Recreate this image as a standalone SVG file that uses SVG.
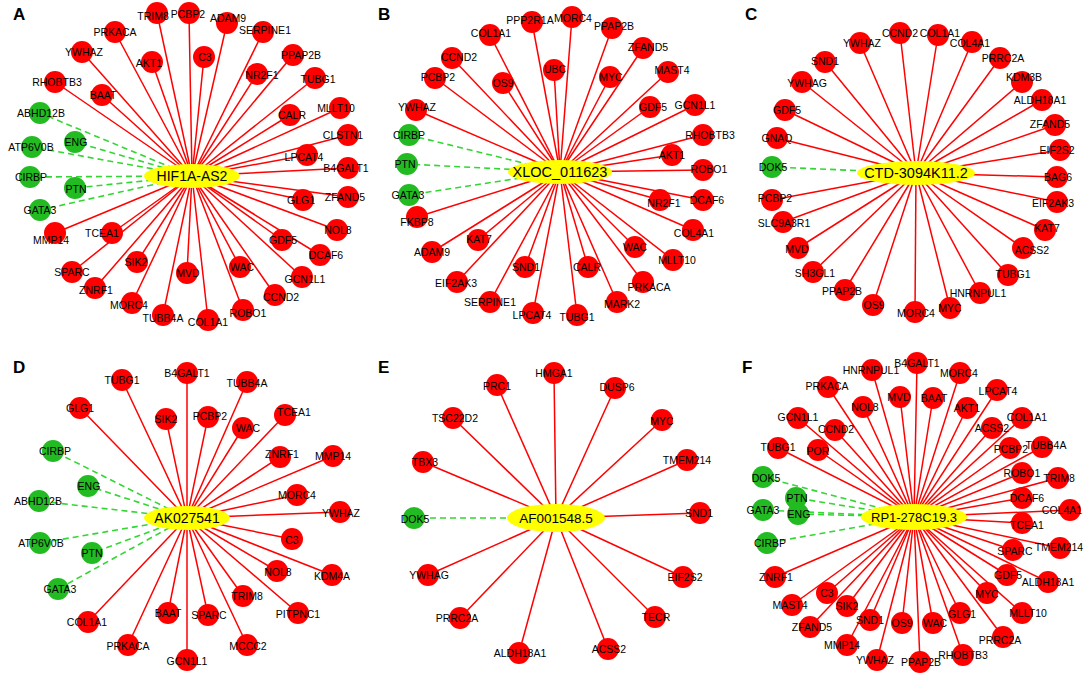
<svg xmlns="http://www.w3.org/2000/svg" width="1084" height="674" viewBox="0 0 1084 674">
<style>
.er{stroke:#f00;stroke-width:1.5}
.eg{stroke:#33d633;stroke-width:1.6;stroke-dasharray:6 4}
.nr{fill:#f00}
.ng{fill:#22bb22}
.hub{fill:#ffff00}
text{font-family:"Liberation Sans",Arial,sans-serif;fill:#000}
.t{font-size:10.5px;text-anchor:middle}
.ht{text-anchor:middle}
.pl{font-size:17px;font-weight:bold}
</style>
<rect width="1084" height="674" fill="#fff"/>
<g id="panel-labels">
<text class="pl" x="13" y="20">A</text>
<text class="pl" x="378" y="20">B</text>
<text class="pl" x="745" y="20">C</text>
<text class="pl" x="13" y="373">D</text>
<text class="pl" x="378" y="373">E</text>
<text class="pl" x="742" y="373">F</text>
</g>
<g id="connectors">
<!-- A -->
<g class="er">
<line x1="192" y1="176" x2="157" y2="13"/><line x1="192" y1="176" x2="189" y2="13"/><line x1="192" y1="176" x2="227" y2="23"/><line x1="192" y1="176" x2="263" y2="32"/><line x1="192" y1="176" x2="115" y2="32"/><line x1="192" y1="176" x2="82" y2="52"/><line x1="192" y1="176" x2="152" y2="62"/><line x1="192" y1="176" x2="204" y2="57"/><line x1="192" y1="176" x2="293" y2="55"/><line x1="192" y1="176" x2="257" y2="74"/><line x1="192" y1="176" x2="315" y2="78"/><line x1="192" y1="176" x2="55" y2="82"/><line x1="192" y1="176" x2="102" y2="95"/><line x1="192" y1="176" x2="340" y2="108"/><line x1="192" y1="176" x2="290" y2="115"/><line x1="192" y1="176" x2="348" y2="135"/><line x1="192" y1="176" x2="307" y2="155"/><line x1="192" y1="176" x2="348" y2="168"/><line x1="192" y1="176" x2="348" y2="197"/><line x1="192" y1="176" x2="303" y2="200"/><line x1="192" y1="176" x2="337" y2="230"/><line x1="192" y1="176" x2="55" y2="233"/><line x1="192" y1="176" x2="112" y2="233"/><line x1="192" y1="176" x2="282" y2="240"/><line x1="192" y1="176" x2="320" y2="255"/><line x1="192" y1="176" x2="137" y2="262"/><line x1="192" y1="176" x2="187" y2="273"/><line x1="192" y1="176" x2="240" y2="267"/><line x1="192" y1="176" x2="72" y2="272"/><line x1="192" y1="176" x2="302" y2="277"/><line x1="192" y1="176" x2="95" y2="288"/><line x1="192" y1="176" x2="275" y2="295"/><line x1="192" y1="176" x2="132" y2="303"/><line x1="192" y1="176" x2="243" y2="310"/><line x1="192" y1="176" x2="163" y2="315"/><line x1="192" y1="176" x2="208" y2="320"/>
</g>
<g class="eg">
<line x1="192" y1="176" x2="40" y2="113"/><line x1="192" y1="176" x2="75" y2="142"/><line x1="192" y1="176" x2="32" y2="147"/><line x1="192" y1="176" x2="30" y2="177"/><line x1="192" y1="176" x2="75" y2="188"/><line x1="192" y1="176" x2="40" y2="210"/>
</g>
<!-- B -->
<g class="er">
<line x1="560" y1="172" x2="532" y2="22"/><line x1="560" y1="172" x2="572" y2="17"/><line x1="560" y1="172" x2="612" y2="28"/><line x1="560" y1="172" x2="490" y2="35"/><line x1="560" y1="172" x2="643" y2="48"/><line x1="560" y1="172" x2="452" y2="58"/><line x1="560" y1="172" x2="554" y2="70"/><line x1="560" y1="172" x2="610" y2="77"/><line x1="560" y1="172" x2="668" y2="72"/><line x1="560" y1="172" x2="435" y2="78"/><line x1="560" y1="172" x2="503" y2="83"/><line x1="560" y1="172" x2="416" y2="110"/><line x1="560" y1="172" x2="650" y2="107"/><line x1="560" y1="172" x2="695" y2="105"/><line x1="560" y1="172" x2="703" y2="135"/><line x1="560" y1="172" x2="672" y2="155"/><line x1="560" y1="172" x2="703" y2="170"/><line x1="560" y1="172" x2="703" y2="200"/><line x1="560" y1="172" x2="660" y2="200"/><line x1="560" y1="172" x2="417" y2="217"/><line x1="560" y1="172" x2="693" y2="230"/><line x1="560" y1="172" x2="478" y2="240"/><line x1="560" y1="172" x2="432" y2="252"/><line x1="560" y1="172" x2="635" y2="247"/><line x1="560" y1="172" x2="673" y2="260"/><line x1="560" y1="172" x2="525" y2="267"/><line x1="560" y1="172" x2="588" y2="267"/><line x1="560" y1="172" x2="457" y2="282"/><line x1="560" y1="172" x2="643" y2="282"/><line x1="560" y1="172" x2="490" y2="302"/><line x1="560" y1="172" x2="617" y2="302"/><line x1="560" y1="172" x2="533" y2="313"/><line x1="560" y1="172" x2="577" y2="315"/>
</g>
<g class="eg">
<line x1="560" y1="172" x2="409" y2="135"/><line x1="560" y1="172" x2="407" y2="164"/><line x1="560" y1="172" x2="409" y2="195"/>
</g>
<!-- C -->
<g class="er">
<line x1="916" y1="173" x2="900" y2="33"/><line x1="916" y1="173" x2="938" y2="35"/><line x1="916" y1="173" x2="860" y2="43"/><line x1="916" y1="173" x2="972" y2="42"/><line x1="916" y1="173" x2="825" y2="62"/><line x1="916" y1="173" x2="1000" y2="58"/><line x1="916" y1="173" x2="802" y2="82"/><line x1="916" y1="173" x2="1022" y2="82"/><line x1="916" y1="173" x2="1042" y2="100"/><line x1="916" y1="173" x2="785" y2="110"/><line x1="916" y1="173" x2="1055" y2="125"/><line x1="916" y1="173" x2="777" y2="138"/><line x1="916" y1="173" x2="1060" y2="150"/><line x1="916" y1="173" x2="1057" y2="177"/><line x1="916" y1="173" x2="772" y2="200"/><line x1="916" y1="173" x2="1057" y2="202"/><line x1="916" y1="173" x2="783" y2="222"/><line x1="916" y1="173" x2="1045" y2="230"/><line x1="916" y1="173" x2="798" y2="248"/><line x1="916" y1="173" x2="1023" y2="248"/><line x1="916" y1="173" x2="813" y2="272"/><line x1="916" y1="173" x2="1008" y2="275"/><line x1="916" y1="173" x2="845" y2="290"/><line x1="916" y1="173" x2="980" y2="293"/><line x1="916" y1="173" x2="873" y2="305"/><line x1="916" y1="173" x2="915" y2="312"/><line x1="916" y1="173" x2="950" y2="308"/>
</g>
<g class="eg">
<line x1="916" y1="173" x2="772" y2="167"/>
</g>
<!-- D -->
<g class="er">
<line x1="187" y1="518" x2="187" y2="373"/><line x1="187" y1="518" x2="122" y2="380"/><line x1="187" y1="518" x2="247" y2="382"/><line x1="187" y1="518" x2="80" y2="408"/><line x1="187" y1="518" x2="166" y2="419"/><line x1="187" y1="518" x2="208" y2="417"/><line x1="187" y1="518" x2="285" y2="415"/><line x1="187" y1="518" x2="243" y2="428"/><line x1="187" y1="518" x2="280" y2="457"/><line x1="187" y1="518" x2="333" y2="456"/><line x1="187" y1="518" x2="297" y2="495"/><line x1="187" y1="518" x2="340" y2="512"/><line x1="187" y1="518" x2="292" y2="539"/><line x1="187" y1="518" x2="277" y2="571"/><line x1="187" y1="518" x2="332" y2="575"/><line x1="187" y1="518" x2="243" y2="596"/><line x1="187" y1="518" x2="298" y2="613"/><line x1="187" y1="518" x2="88" y2="622"/><line x1="187" y1="518" x2="168" y2="613"/><line x1="187" y1="518" x2="208" y2="615"/><line x1="187" y1="518" x2="128" y2="645"/><line x1="187" y1="518" x2="247" y2="645"/><line x1="187" y1="518" x2="187" y2="660"/>
</g>
<g class="eg">
<line x1="187" y1="518" x2="53" y2="451"/><line x1="187" y1="518" x2="88" y2="486"/><line x1="187" y1="518" x2="39" y2="501"/><line x1="187" y1="518" x2="40" y2="543"/><line x1="187" y1="518" x2="92" y2="553"/><line x1="187" y1="518" x2="58" y2="589"/>
</g>
<!-- E -->
<g class="er">
<line x1="556" y1="518" x2="554" y2="373"/><line x1="556" y1="518" x2="497" y2="385"/><line x1="556" y1="518" x2="615" y2="388"/><line x1="556" y1="518" x2="453" y2="418"/><line x1="556" y1="518" x2="662" y2="420"/><line x1="556" y1="518" x2="423" y2="462"/><line x1="556" y1="518" x2="687" y2="460"/><line x1="556" y1="518" x2="700" y2="513"/><line x1="556" y1="518" x2="428" y2="575"/><line x1="556" y1="518" x2="683" y2="577"/><line x1="556" y1="518" x2="460" y2="618"/><line x1="556" y1="518" x2="655" y2="617"/><line x1="556" y1="518" x2="519" y2="653"/><line x1="556" y1="518" x2="608" y2="649"/>
</g>
<g class="eg">
<line x1="556" y1="518" x2="414" y2="518"/>
</g>
<!-- F -->
<g class="er">
<line x1="914" y1="517" x2="917" y2="363"/><line x1="914" y1="517" x2="872" y2="370"/><line x1="914" y1="517" x2="960" y2="373"/><line x1="914" y1="517" x2="828" y2="387"/><line x1="914" y1="517" x2="997" y2="390"/><line x1="914" y1="517" x2="900" y2="397"/><line x1="914" y1="517" x2="933" y2="398"/><line x1="914" y1="517" x2="863" y2="407"/><line x1="914" y1="517" x2="967" y2="408"/><line x1="914" y1="517" x2="798" y2="418"/><line x1="914" y1="517" x2="1022" y2="418"/><line x1="914" y1="517" x2="835" y2="430"/><line x1="914" y1="517" x2="992" y2="428"/><line x1="914" y1="517" x2="778" y2="448"/><line x1="914" y1="517" x2="818" y2="450"/><line x1="914" y1="517" x2="1010" y2="448"/><line x1="914" y1="517" x2="1042" y2="447"/><line x1="914" y1="517" x2="1022" y2="473"/><line x1="914" y1="517" x2="1058" y2="478"/><line x1="914" y1="517" x2="1022" y2="498"/><line x1="914" y1="517" x2="1070" y2="510"/><line x1="914" y1="517" x2="1022" y2="523"/><line x1="914" y1="517" x2="1060" y2="548"/><line x1="914" y1="517" x2="1013" y2="550"/><line x1="914" y1="517" x2="775" y2="577"/><line x1="914" y1="517" x2="1007" y2="575"/><line x1="914" y1="517" x2="1048" y2="582"/><line x1="914" y1="517" x2="827" y2="593"/><line x1="914" y1="517" x2="987" y2="593"/><line x1="914" y1="517" x2="792" y2="605"/><line x1="914" y1="517" x2="847" y2="606"/><line x1="914" y1="517" x2="1022" y2="613"/><line x1="914" y1="517" x2="870" y2="620"/><line x1="914" y1="517" x2="902" y2="623"/><line x1="914" y1="517" x2="933" y2="623"/><line x1="914" y1="517" x2="960" y2="613"/><line x1="914" y1="517" x2="810" y2="627"/><line x1="914" y1="517" x2="1003" y2="637"/><line x1="914" y1="517" x2="847" y2="645"/><line x1="914" y1="517" x2="963" y2="655"/><line x1="914" y1="517" x2="877" y2="660"/><line x1="914" y1="517" x2="920" y2="662"/>
</g>
<g class="eg">
<line x1="914" y1="517" x2="763" y2="477"/><line x1="914" y1="517" x2="796" y2="498"/><line x1="914" y1="517" x2="763" y2="510"/><line x1="914" y1="517" x2="798" y2="514"/><line x1="914" y1="517" x2="767" y2="543"/>
</g>
</g>
<!-- Hubs -->
<g id="a-hif1a-as2"><ellipse class="hub" cx="192" cy="176" rx="48" ry="12"/><text class="ht" x="192" y="181" font-size="14">HIF1A-AS2</text></g>
<g id="b-xloc-011623"><ellipse class="hub" cx="560" cy="172" rx="52" ry="12"/><text class="ht" x="560" y="177" font-size="14.5">XLOC_011623</text></g>
<g id="c-ctd-3094k11-2"><ellipse class="hub" cx="916" cy="173" rx="59" ry="12"/><text class="ht" x="916" y="178" font-size="14.5">CTD-3094K11.2</text></g>
<g id="d-ak027541"><ellipse class="hub" cx="187" cy="518" rx="43" ry="12"/><text class="ht" x="187" y="523" font-size="14">AK027541</text></g>
<g id="e-af001548-5"><ellipse class="hub" cx="556" cy="518" rx="49" ry="14"/><text class="ht" x="556" y="523" font-size="13.5">AF001548.5</text></g>
<g id="f-rp1-278c19-3"><ellipse class="hub" cx="914" cy="517" rx="53" ry="13"/><text class="ht" x="914" y="522" font-size="13">RP1-278C19.3</text></g>
<!-- Panel A nodes -->
<g id="a-trim8"><circle class="nr" cx="157" cy="13" r="11"/><text class="t" x="153" y="20">TRIM8</text></g>
<g id="a-pcbp2"><circle class="nr" cx="189" cy="13" r="11"/><text class="t" x="188" y="18">PCBP2</text></g>
<g id="a-adam9"><circle class="nr" cx="227" cy="23" r="11"/><text class="t" x="228" y="22">ADAM9</text></g>
<g id="a-serpine1"><circle class="nr" cx="263" cy="32" r="11"/><text class="t" x="265" y="34">SERPINE1</text></g>
<g id="a-prkaca"><circle class="nr" cx="115" cy="32" r="11"/><text class="t" x="115" y="36">PRKACA</text></g>
<g id="a-ywhaz"><circle class="nr" cx="82" cy="52" r="11"/><text class="t" x="84" y="56">YWHAZ</text></g>
<g id="a-akt1"><circle class="nr" cx="152" cy="62" r="11"/><text class="t" x="149" y="67">AKT1</text></g>
<g id="a-c3"><circle class="nr" cx="204" cy="57" r="11"/><text class="t" x="205" y="61">C3</text></g>
<g id="a-ppap2b"><circle class="nr" cx="293" cy="55" r="11"/><text class="t" x="301" y="59">PPAP2B</text></g>
<g id="a-nr2f1"><circle class="nr" cx="257" cy="74" r="11"/><text class="t" x="262" y="79">NR2F1</text></g>
<g id="a-tubg1"><circle class="nr" cx="315" cy="78" r="11"/><text class="t" x="318" y="83">TUBG1</text></g>
<g id="a-rhobtb3"><circle class="nr" cx="55" cy="82" r="11"/><text class="t" x="57" y="86">RHOBTB3</text></g>
<g id="a-baat"><circle class="nr" cx="102" cy="95" r="11"/><text class="t" x="103" y="99">BAAT</text></g>
<g id="a-mllt10"><circle class="nr" cx="340" cy="108" r="11"/><text class="t" x="336" y="112">MLLT10</text></g>
<g id="a-calr"><circle class="nr" cx="290" cy="115" r="11"/><text class="t" x="292" y="119">CALR</text></g>
<g id="a-clstn1"><circle class="nr" cx="348" cy="135" r="11"/><text class="t" x="343" y="139">CLSTN1</text></g>
<g id="a-lpcat4"><circle class="nr" cx="307" cy="155" r="11"/><text class="t" x="304" y="161">LPCAT4</text></g>
<g id="a-b4galt1"><circle class="nr" cx="348" cy="168" r="11"/><text class="t" x="346" y="172">B4GALT1</text></g>
<g id="a-zfand5"><circle class="nr" cx="348" cy="197" r="11"/><text class="t" x="345" y="201">ZFAND5</text></g>
<g id="a-glg1"><circle class="nr" cx="303" cy="200" r="11"/><text class="t" x="301" y="204">GLG1</text></g>
<g id="a-nol8"><circle class="nr" cx="337" cy="230" r="11"/><text class="t" x="338" y="234">NOL8</text></g>
<g id="a-mmp14"><circle class="nr" cx="55" cy="233" r="11"/><text class="t" x="51" y="244">MMP14</text></g>
<g id="a-tcea1"><circle class="nr" cx="112" cy="233" r="11"/><text class="t" x="102" y="237">TCEA1</text></g>
<g id="a-gdf5"><circle class="nr" cx="282" cy="240" r="11"/><text class="t" x="283" y="244">GDF5</text></g>
<g id="a-dcaf6"><circle class="nr" cx="320" cy="255" r="11"/><text class="t" x="326" y="259">DCAF6</text></g>
<g id="a-sik2"><circle class="nr" cx="137" cy="262" r="11"/><text class="t" x="136" y="266">SIK2</text></g>
<g id="a-mvd"><circle class="nr" cx="187" cy="273" r="11"/><text class="t" x="188" y="277">MVD</text></g>
<g id="a-wac"><circle class="nr" cx="240" cy="267" r="11"/><text class="t" x="242" y="271">WAC</text></g>
<g id="a-sparc"><circle class="nr" cx="72" cy="272" r="11"/><text class="t" x="72" y="276">SPARC</text></g>
<g id="a-gcn1l1"><circle class="nr" cx="302" cy="277" r="11"/><text class="t" x="305" y="283">GCN1L1</text></g>
<g id="a-znrf1"><circle class="nr" cx="95" cy="288" r="11"/><text class="t" x="96" y="294">ZNRF1</text></g>
<g id="a-ccnd2"><circle class="nr" cx="275" cy="295" r="11"/><text class="t" x="281" y="301">CCND2</text></g>
<g id="a-morc4"><circle class="nr" cx="132" cy="303" r="11"/><text class="t" x="129" y="309">MORC4</text></g>
<g id="a-robo1"><circle class="nr" cx="243" cy="310" r="11"/><text class="t" x="248" y="317">ROBO1</text></g>
<g id="a-tubb4a"><circle class="nr" cx="163" cy="315" r="11"/><text class="t" x="163" y="322">TUBB4A</text></g>
<g id="a-col1a1"><circle class="nr" cx="208" cy="320" r="11"/><text class="t" x="208" y="326">COL1A1</text></g>
<g id="a-abhd12b"><circle class="ng" cx="40" cy="113" r="11"/><text class="t" x="41" y="117">ABHD12B</text></g>
<g id="a-eng"><circle class="ng" cx="75" cy="142" r="11"/><text class="t" x="76" y="146">ENG</text></g>
<g id="a-atp6v0b"><circle class="ng" cx="32" cy="147" r="11"/><text class="t" x="31" y="151">ATP6V0B</text></g>
<g id="a-cirbp"><circle class="ng" cx="30" cy="177" r="11"/><text class="t" x="31" y="181">CIRBP</text></g>
<g id="a-ptn"><circle class="ng" cx="75" cy="188" r="11"/><text class="t" x="76" y="193">PTN</text></g>
<g id="a-gata3"><circle class="ng" cx="40" cy="210" r="11"/><text class="t" x="40" y="214">GATA3</text></g>
<!-- Panel B nodes -->
<g id="b-ppp2r1a"><circle class="nr" cx="532" cy="22" r="11"/><text class="t" x="530" y="24">PPP2R1A</text></g>
<g id="b-morc4"><circle class="nr" cx="572" cy="17" r="11"/><text class="t" x="573" y="22">MORC4</text></g>
<g id="b-ppap2b"><circle class="nr" cx="612" cy="28" r="11"/><text class="t" x="614" y="30">PPAP2B</text></g>
<g id="b-col1a1"><circle class="nr" cx="490" cy="35" r="11"/><text class="t" x="491" y="37">COL1A1</text></g>
<g id="b-zfand5"><circle class="nr" cx="643" cy="48" r="11"/><text class="t" x="648" y="51">ZFAND5</text></g>
<g id="b-ccnd2"><circle class="nr" cx="452" cy="58" r="11"/><text class="t" x="459" y="61">CCND2</text></g>
<g id="b-ubc"><circle class="nr" cx="554" cy="70" r="11"/><text class="t" x="555" y="73">UBC</text></g>
<g id="b-myc"><circle class="nr" cx="610" cy="77" r="11"/><text class="t" x="611" y="81">MYC</text></g>
<g id="b-mast4"><circle class="nr" cx="668" cy="72" r="11"/><text class="t" x="672" y="74">MAST4</text></g>
<g id="b-pcbp2"><circle class="nr" cx="435" cy="78" r="11"/><text class="t" x="438" y="81">PCBP2</text></g>
<g id="b-os9"><circle class="nr" cx="503" cy="83" r="11"/><text class="t" x="503" y="87">OS9</text></g>
<g id="b-ywhaz"><circle class="nr" cx="416" cy="110" r="11"/><text class="t" x="417" y="111">YWHAZ</text></g>
<g id="b-gdf5"><circle class="nr" cx="650" cy="107" r="11"/><text class="t" x="653" y="111">GDF5</text></g>
<g id="b-gcn1l1"><circle class="nr" cx="695" cy="105" r="11"/><text class="t" x="695" y="109">GCN1L1</text></g>
<g id="b-rhobtb3"><circle class="nr" cx="703" cy="135" r="11"/><text class="t" x="710" y="139">RHOBTB3</text></g>
<g id="b-akt1"><circle class="nr" cx="672" cy="155" r="11"/><text class="t" x="672" y="159">AKT1</text></g>
<g id="b-robo1"><circle class="nr" cx="703" cy="170" r="11"/><text class="t" x="709" y="173">ROBO1</text></g>
<g id="b-dcaf6"><circle class="nr" cx="703" cy="200" r="11"/><text class="t" x="707" y="204">DCAF6</text></g>
<g id="b-nr2f1"><circle class="nr" cx="660" cy="200" r="11"/><text class="t" x="664" y="207">NR2F1</text></g>
<g id="b-fkbp8"><circle class="nr" cx="417" cy="217" r="11"/><text class="t" x="417" y="226">FKBP8</text></g>
<g id="b-col4a1"><circle class="nr" cx="693" cy="230" r="11"/><text class="t" x="694" y="237">COL4A1</text></g>
<g id="b-kat7"><circle class="nr" cx="478" cy="240" r="11"/><text class="t" x="479" y="243">KAT7</text></g>
<g id="b-adam9"><circle class="nr" cx="432" cy="252" r="11"/><text class="t" x="432" y="256">ADAM9</text></g>
<g id="b-wac"><circle class="nr" cx="635" cy="247" r="11"/><text class="t" x="635" y="251">WAC</text></g>
<g id="b-mllt10"><circle class="nr" cx="673" cy="260" r="11"/><text class="t" x="677" y="264">MLLT10</text></g>
<g id="b-snd1"><circle class="nr" cx="525" cy="267" r="11"/><text class="t" x="526" y="271">SND1</text></g>
<g id="b-calr"><circle class="nr" cx="588" cy="267" r="11"/><text class="t" x="587" y="271">CALR</text></g>
<g id="b-eif2ak3"><circle class="nr" cx="457" cy="282" r="11"/><text class="t" x="456" y="287">EIF2AK3</text></g>
<g id="b-prkaca"><circle class="nr" cx="643" cy="282" r="11"/><text class="t" x="649" y="291">PRKACA</text></g>
<g id="b-serpine1"><circle class="nr" cx="490" cy="302" r="11"/><text class="t" x="490" y="306">SERPINE1</text></g>
<g id="b-mark2"><circle class="nr" cx="617" cy="302" r="11"/><text class="t" x="622" y="308">MARK2</text></g>
<g id="b-lpcat4"><circle class="nr" cx="533" cy="313" r="11"/><text class="t" x="532" y="319">LPCAT4</text></g>
<g id="b-tubg1"><circle class="nr" cx="577" cy="315" r="11"/><text class="t" x="577" y="321">TUBG1</text></g>
<g id="b-cirbp"><circle class="ng" cx="409" cy="135" r="11"/><text class="t" x="409" y="139">CIRBP</text></g>
<g id="b-ptn"><circle class="ng" cx="407" cy="164" r="11"/><text class="t" x="405" y="168">PTN</text></g>
<g id="b-gata3"><circle class="ng" cx="409" cy="195" r="11"/><text class="t" x="408" y="199">GATA3</text></g>
<!-- Panel C nodes -->
<g id="c-ccnd2"><circle class="nr" cx="900" cy="33" r="11"/><text class="t" x="900" y="37">CCND2</text></g>
<g id="c-col1a1"><circle class="nr" cx="938" cy="35" r="11"/><text class="t" x="940" y="37">COL1A1</text></g>
<g id="c-ywhaz"><circle class="nr" cx="860" cy="43" r="11"/><text class="t" x="862" y="47">YWHAZ</text></g>
<g id="c-col4a1"><circle class="nr" cx="972" cy="42" r="11"/><text class="t" x="970" y="47">COL4A1</text></g>
<g id="c-snd1"><circle class="nr" cx="825" cy="62" r="11"/><text class="t" x="825" y="65">SND1</text></g>
<g id="c-prrc2a"><circle class="nr" cx="1000" cy="58" r="11"/><text class="t" x="1003" y="62">PRRC2A</text></g>
<g id="c-ywhag"><circle class="nr" cx="802" cy="82" r="11"/><text class="t" x="807" y="87">YWHAG</text></g>
<g id="c-kdm3b"><circle class="nr" cx="1022" cy="82" r="11"/><text class="t" x="1024" y="81">KDM3B</text></g>
<g id="c-aldh18a1"><circle class="nr" cx="1042" cy="100" r="11"/><text class="t" x="1040" y="104">ALDH18A1</text></g>
<g id="c-gdf5"><circle class="nr" cx="785" cy="110" r="11"/><text class="t" x="787" y="114">GDF5</text></g>
<g id="c-zfand5"><circle class="nr" cx="1055" cy="125" r="11"/><text class="t" x="1050" y="128">ZFAND5</text></g>
<g id="c-gnaq"><circle class="nr" cx="777" cy="138" r="11"/><text class="t" x="777" y="142">GNAQ</text></g>
<g id="c-eif2s2"><circle class="nr" cx="1060" cy="150" r="11"/><text class="t" x="1057" y="154">EIF2S2</text></g>
<g id="c-bag6"><circle class="nr" cx="1057" cy="177" r="11"/><text class="t" x="1058" y="181">BAG6</text></g>
<g id="c-pcbp2"><circle class="nr" cx="772" cy="200" r="11"/><text class="t" x="775" y="202">PCBP2</text></g>
<g id="c-eif2ak3"><circle class="nr" cx="1057" cy="202" r="11"/><text class="t" x="1053" y="207">EIF2AK3</text></g>
<g id="c-slc9a3r1"><circle class="nr" cx="783" cy="222" r="11"/><text class="t" x="784" y="227">SLC9A3R1</text></g>
<g id="c-kat7"><circle class="nr" cx="1045" cy="230" r="11"/><text class="t" x="1047" y="232">KAT7</text></g>
<g id="c-mvd"><circle class="nr" cx="798" cy="248" r="11"/><text class="t" x="797" y="253">MVD</text></g>
<g id="c-acss2"><circle class="nr" cx="1023" cy="248" r="11"/><text class="t" x="1032" y="254">ACSS2</text></g>
<g id="c-sh3gl1"><circle class="nr" cx="813" cy="272" r="11"/><text class="t" x="815" y="277">SH3GL1</text></g>
<g id="c-tubg1"><circle class="nr" cx="1008" cy="275" r="11"/><text class="t" x="1013" y="278">TUBG1</text></g>
<g id="c-ppap2b"><circle class="nr" cx="845" cy="290" r="11"/><text class="t" x="842" y="295">PPAP2B</text></g>
<g id="c-hnrnpul1"><circle class="nr" cx="980" cy="293" r="11"/><text class="t" x="978" y="297">HNRNPUL1</text></g>
<g id="c-os9"><circle class="nr" cx="873" cy="305" r="11"/><text class="t" x="874" y="309">OS9</text></g>
<g id="c-morc4"><circle class="nr" cx="915" cy="312" r="11"/><text class="t" x="916" y="317">MORC4</text></g>
<g id="c-myc"><circle class="nr" cx="950" cy="308" r="11"/><text class="t" x="950" y="312">MYC</text></g>
<g id="c-dok5"><circle class="ng" cx="772" cy="167" r="11"/><text class="t" x="773" y="171">DOK5</text></g>
<!-- Panel D nodes -->
<g id="d-b4galt1"><circle class="nr" cx="187" cy="373" r="11"/><text class="t" x="187" y="377">B4GALT1</text></g>
<g id="d-tubg1"><circle class="nr" cx="122" cy="380" r="11"/><text class="t" x="122" y="384">TUBG1</text></g>
<g id="d-tubb4a"><circle class="nr" cx="247" cy="382" r="11"/><text class="t" x="247" y="387">TUBB4A</text></g>
<g id="d-glg1"><circle class="nr" cx="80" cy="408" r="11"/><text class="t" x="80" y="412">GLG1</text></g>
<g id="d-sik2"><circle class="nr" cx="166" cy="419" r="11"/><text class="t" x="166" y="423">SIK2</text></g>
<g id="d-pcbp2"><circle class="nr" cx="208" cy="417" r="11"/><text class="t" x="210" y="420">PCBP2</text></g>
<g id="d-tcea1"><circle class="nr" cx="285" cy="415" r="11"/><text class="t" x="294" y="416">TCEA1</text></g>
<g id="d-wac"><circle class="nr" cx="243" cy="428" r="11"/><text class="t" x="248" y="432">WAC</text></g>
<g id="d-znrf1"><circle class="nr" cx="280" cy="457" r="11"/><text class="t" x="282" y="458">ZNRF1</text></g>
<g id="d-mmp14"><circle class="nr" cx="333" cy="456" r="11"/><text class="t" x="333" y="460">MMP14</text></g>
<g id="d-morc4"><circle class="nr" cx="297" cy="495" r="11"/><text class="t" x="297" y="499">MORC4</text></g>
<g id="d-ywhaz"><circle class="nr" cx="340" cy="512" r="11"/><text class="t" x="341" y="517">YWHAZ</text></g>
<g id="d-c3"><circle class="nr" cx="292" cy="539" r="11"/><text class="t" x="292" y="544">C3</text></g>
<g id="d-nol8"><circle class="nr" cx="277" cy="571" r="11"/><text class="t" x="278" y="576">NOL8</text></g>
<g id="d-kdm4a"><circle class="nr" cx="332" cy="575" r="11"/><text class="t" x="332" y="580">KDM4A</text></g>
<g id="d-trim8"><circle class="nr" cx="243" cy="596" r="11"/><text class="t" x="247" y="600">TRIM8</text></g>
<g id="d-pitpnc1"><circle class="nr" cx="298" cy="613" r="11"/><text class="t" x="298" y="618">PITPNC1</text></g>
<g id="d-col1a1"><circle class="nr" cx="88" cy="622" r="11"/><text class="t" x="87" y="626">COL1A1</text></g>
<g id="d-baat"><circle class="nr" cx="168" cy="613" r="11"/><text class="t" x="168" y="617">BAAT</text></g>
<g id="d-sparc"><circle class="nr" cx="208" cy="615" r="11"/><text class="t" x="209" y="619">SPARC</text></g>
<g id="d-prkaca"><circle class="nr" cx="128" cy="645" r="11"/><text class="t" x="128" y="650">PRKACA</text></g>
<g id="d-mccc2"><circle class="nr" cx="247" cy="645" r="11"/><text class="t" x="248" y="650">MCCC2</text></g>
<g id="d-gcn1l1"><circle class="nr" cx="187" cy="660" r="11"/><text class="t" x="187" y="665">GCN1L1</text></g>
<g id="d-cirbp"><circle class="ng" cx="53" cy="451" r="11"/><text class="t" x="55" y="455">CIRBP</text></g>
<g id="d-eng"><circle class="ng" cx="88" cy="486" r="11"/><text class="t" x="89" y="490">ENG</text></g>
<g id="d-abhd12b"><circle class="ng" cx="39" cy="501" r="11"/><text class="t" x="38" y="505">ABHD12B</text></g>
<g id="d-atp6v0b"><circle class="ng" cx="40" cy="543" r="11"/><text class="t" x="41" y="547">ATP6V0B</text></g>
<g id="d-ptn"><circle class="ng" cx="92" cy="553" r="11"/><text class="t" x="92" y="557">PTN</text></g>
<g id="d-gata3"><circle class="ng" cx="58" cy="589" r="11"/><text class="t" x="60" y="593">GATA3</text></g>
<!-- Panel E nodes -->
<g id="e-hmga1"><circle class="nr" cx="554" cy="373" r="11"/><text class="t" x="554" y="377">HMGA1</text></g>
<g id="e-prc1"><circle class="nr" cx="497" cy="385" r="11"/><text class="t" x="497" y="390">PRC1</text></g>
<g id="e-dusp6"><circle class="nr" cx="615" cy="388" r="11"/><text class="t" x="617" y="391">DUSP6</text></g>
<g id="e-tsc22d2"><circle class="nr" cx="453" cy="418" r="11"/><text class="t" x="455" y="422">TSC22D2</text></g>
<g id="e-myc"><circle class="nr" cx="662" cy="420" r="11"/><text class="t" x="662" y="425">MYC</text></g>
<g id="e-tbx3"><circle class="nr" cx="423" cy="462" r="11"/><text class="t" x="425" y="466">TBX3</text></g>
<g id="e-tmem214"><circle class="nr" cx="687" cy="460" r="11"/><text class="t" x="687" y="464">TMEM214</text></g>
<g id="e-snd1"><circle class="nr" cx="700" cy="513" r="11"/><text class="t" x="699" y="517">SND1</text></g>
<g id="e-ywhag"><circle class="nr" cx="428" cy="575" r="11"/><text class="t" x="429" y="579">YWHAG</text></g>
<g id="e-eif2s2"><circle class="nr" cx="683" cy="577" r="11"/><text class="t" x="685" y="581">EIF2S2</text></g>
<g id="e-prrc2a"><circle class="nr" cx="460" cy="618" r="11"/><text class="t" x="457" y="622">PRRC2A</text></g>
<g id="e-tecr"><circle class="nr" cx="655" cy="617" r="11"/><text class="t" x="656" y="621">TECR</text></g>
<g id="e-aldh18a1"><circle class="nr" cx="519" cy="653" r="11"/><text class="t" x="520" y="657">ALDH18A1</text></g>
<g id="e-acss2"><circle class="nr" cx="608" cy="649" r="11"/><text class="t" x="609" y="653">ACSS2</text></g>
<g id="e-dok5"><circle class="ng" cx="414" cy="518" r="11"/><text class="t" x="415" y="523">DOK5</text></g>
<!-- Panel F nodes -->
<g id="f-b4galt1"><circle class="nr" cx="917" cy="363" r="11"/><text class="t" x="917" y="367">B4GALT1</text></g>
<g id="f-hnrnpul1"><circle class="nr" cx="872" cy="370" r="11"/><text class="t" x="871" y="374">HNRNPUL1</text></g>
<g id="f-morc4"><circle class="nr" cx="960" cy="373" r="11"/><text class="t" x="959" y="377">MORC4</text></g>
<g id="f-prkaca"><circle class="nr" cx="828" cy="387" r="11"/><text class="t" x="827" y="390">PRKACA</text></g>
<g id="f-lpcat4"><circle class="nr" cx="997" cy="390" r="11"/><text class="t" x="998" y="395">LPCAT4</text></g>
<g id="f-mvd"><circle class="nr" cx="900" cy="397" r="11"/><text class="t" x="899" y="401">MVD</text></g>
<g id="f-baat"><circle class="nr" cx="933" cy="398" r="11"/><text class="t" x="934" y="402">BAAT</text></g>
<g id="f-nol8"><circle class="nr" cx="863" cy="407" r="11"/><text class="t" x="865" y="411">NOL8</text></g>
<g id="f-akt1"><circle class="nr" cx="967" cy="408" r="11"/><text class="t" x="967" y="412">AKT1</text></g>
<g id="f-gcn1l1"><circle class="nr" cx="798" cy="418" r="11"/><text class="t" x="798" y="421">GCN1L1</text></g>
<g id="f-col1a1"><circle class="nr" cx="1022" cy="418" r="11"/><text class="t" x="1027" y="421">COL1A1</text></g>
<g id="f-ccnd2"><circle class="nr" cx="835" cy="430" r="11"/><text class="t" x="836" y="433">CCND2</text></g>
<g id="f-acss2"><circle class="nr" cx="992" cy="428" r="11"/><text class="t" x="992" y="432">ACSS2</text></g>
<g id="f-tubg1"><circle class="nr" cx="778" cy="448" r="11"/><text class="t" x="778" y="451">TUBG1</text></g>
<g id="f-por"><circle class="nr" cx="818" cy="450" r="11"/><text class="t" x="818" y="455">POR</text></g>
<g id="f-pcbp2"><circle class="nr" cx="1010" cy="448" r="11"/><text class="t" x="1011" y="453">PCBP2</text></g>
<g id="f-tubb4a"><circle class="nr" cx="1042" cy="447" r="11"/><text class="t" x="1046" y="449">TUBB4A</text></g>
<g id="f-robo1"><circle class="nr" cx="1022" cy="473" r="11"/><text class="t" x="1022" y="477">ROBO1</text></g>
<g id="f-trim8"><circle class="nr" cx="1058" cy="478" r="11"/><text class="t" x="1059" y="482">TRIM8</text></g>
<g id="f-dcaf6"><circle class="nr" cx="1022" cy="498" r="11"/><text class="t" x="1027" y="502">DCAF6</text></g>
<g id="f-col4a1"><circle class="nr" cx="1070" cy="510" r="11"/><text class="t" x="1062" y="514">COL4A1</text></g>
<g id="f-tcea1"><circle class="nr" cx="1022" cy="523" r="11"/><text class="t" x="1027" y="529">TCEA1</text></g>
<g id="f-tmem214"><circle class="nr" cx="1060" cy="548" r="11"/><text class="t" x="1059" y="551">TMEM214</text></g>
<g id="f-sparc"><circle class="nr" cx="1013" cy="550" r="11"/><text class="t" x="1015" y="555">SPARC</text></g>
<g id="f-znrf1"><circle class="nr" cx="775" cy="577" r="11"/><text class="t" x="776" y="581">ZNRF1</text></g>
<g id="f-gdf5"><circle class="nr" cx="1007" cy="575" r="11"/><text class="t" x="1008" y="579">GDF5</text></g>
<g id="f-aldh18a1"><circle class="nr" cx="1048" cy="582" r="11"/><text class="t" x="1048" y="586">ALDH18A1</text></g>
<g id="f-c3"><circle class="nr" cx="827" cy="593" r="11"/><text class="t" x="827" y="597">C3</text></g>
<g id="f-myc"><circle class="nr" cx="987" cy="593" r="11"/><text class="t" x="987" y="598">MYC</text></g>
<g id="f-mast4"><circle class="nr" cx="792" cy="605" r="11"/><text class="t" x="790" y="609">MAST4</text></g>
<g id="f-sik2"><circle class="nr" cx="847" cy="606" r="11"/><text class="t" x="847" y="610">SIK2</text></g>
<g id="f-mllt10"><circle class="nr" cx="1022" cy="613" r="11"/><text class="t" x="1028" y="617">MLLT10</text></g>
<g id="f-snd1"><circle class="nr" cx="870" cy="620" r="11"/><text class="t" x="870" y="624">SND1</text></g>
<g id="f-os9"><circle class="nr" cx="902" cy="623" r="11"/><text class="t" x="902" y="627">OS9</text></g>
<g id="f-wac"><circle class="nr" cx="933" cy="623" r="11"/><text class="t" x="935" y="627">WAC</text></g>
<g id="f-glg1"><circle class="nr" cx="960" cy="613" r="11"/><text class="t" x="962" y="618">GLG1</text></g>
<g id="f-zfand5"><circle class="nr" cx="810" cy="627" r="11"/><text class="t" x="812" y="631">ZFAND5</text></g>
<g id="f-prrc2a"><circle class="nr" cx="1003" cy="637" r="11"/><text class="t" x="1000" y="644">PRRC2A</text></g>
<g id="f-mmp14"><circle class="nr" cx="847" cy="645" r="11"/><text class="t" x="842" y="649">MMP14</text></g>
<g id="f-rhobtb3"><circle class="nr" cx="963" cy="655" r="11"/><text class="t" x="963" y="659">RHOBTB3</text></g>
<g id="f-ywhaz"><circle class="nr" cx="877" cy="660" r="11"/><text class="t" x="875" y="664">YWHAZ</text></g>
<g id="f-ppap2b"><circle class="nr" cx="920" cy="662" r="11"/><text class="t" x="921" y="666">PPAP2B</text></g>
<g id="f-dok5"><circle class="ng" cx="763" cy="477" r="11"/><text class="t" x="766" y="482">DOK5</text></g>
<g id="f-ptn"><circle class="ng" cx="796" cy="498" r="11"/><text class="t" x="797" y="502">PTN</text></g>
<g id="f-gata3"><circle class="ng" cx="763" cy="510" r="11"/><text class="t" x="763" y="514">GATA3</text></g>
<g id="f-eng"><circle class="ng" cx="798" cy="514" r="11"/><text class="t" x="799" y="518">ENG</text></g>
<g id="f-cirbp"><circle class="ng" cx="767" cy="543" r="11"/><text class="t" x="770" y="547">CIRBP</text></g>
</svg>
